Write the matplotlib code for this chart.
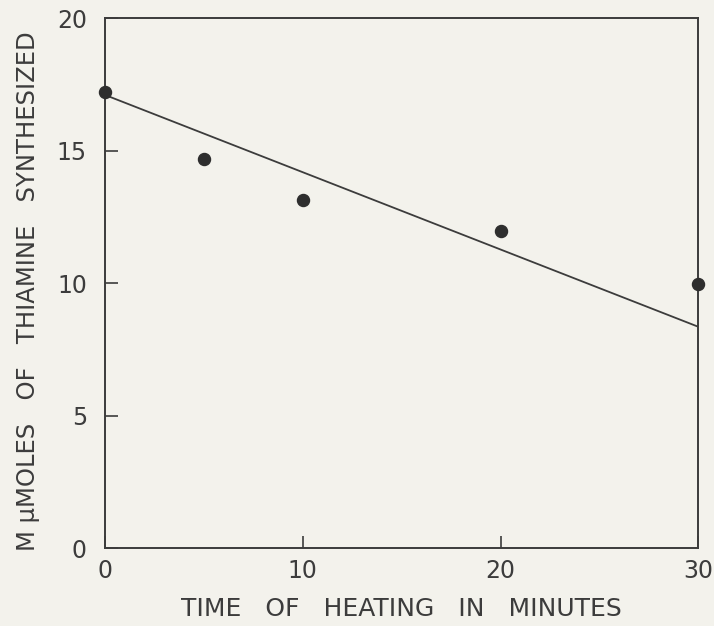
import matplotlib
matplotlib.use("Agg")
import matplotlib.pyplot as plt

# Data
time_min = [0, 5, 10, 20, 30]
thiamine = [17.2, 14.7, 13.15, 11.95, 9.95]
fit_x = [0, 30]
fit_y = [17.1, 8.35]

xticks = [0, 10, 20, 30]
yticks = [0, 5, 10, 15, 20]

bg = "#f3f2ec"
ink = "#3c3c3c"

plt.rcParams['font.family'] = ['DejaVu Sans']
fig = plt.figure(figsize=(7.14, 6.26), dpi=100, facecolor=bg)
ax = fig.add_axes([0.147, 0.1246, 0.831, 0.8465], facecolor=bg)

ax.plot(fit_x, fit_y, color=ink, lw=1.3, zorder=2)
ax.scatter(time_min, thiamine, s=75, color="#2e2e2e", zorder=3, clip_on=False)

ax.set_xlim(0, 30)
ax.set_ylim(0, 20)
ax.set_xticks(xticks)
ax.set_yticks(yticks)
ax.set_xticklabels([str(t) for t in xticks])
ax.set_yticklabels([str(t) for t in yticks])
ax.tick_params(direction='in', length=9, width=1.2, color=ink, labelcolor=ink,
               labelsize=17)
ax.tick_params(axis='y', pad=13)
ax.tick_params(axis='x', pad=8)
for s in ax.spines.values():
    s.set_color(ink)
    s.set_linewidth(1.4)

ax.set_xlabel("TIME   OF   HEATING   IN   MINUTES", fontsize=18, color=ink, labelpad=10)
ax.set_ylabel("M \u03bcMOLES   OF   THIAMINE   SYNTHESIZED", fontsize=17.5, color=ink, labelpad=14)
ax.yaxis.set_label_coords(-0.11, 0.485)

fig.savefig("out.png", dpi=100, facecolor=bg)
